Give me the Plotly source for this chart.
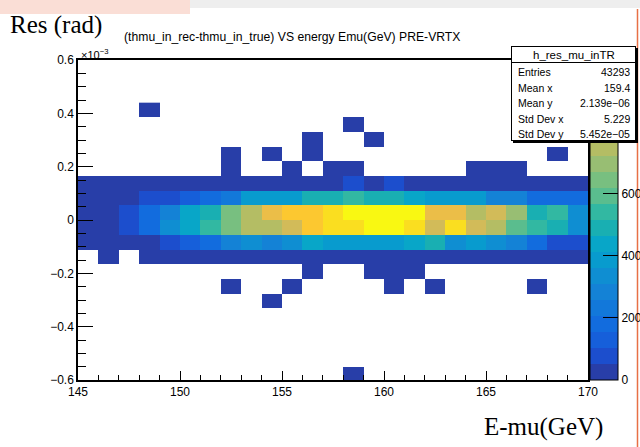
import plotly.graph_objects as go

# ---------------- data ----------------
E_BIN_CENTERS = [145.5, 146.5, 147.5, 148.5, 149.5, 150.5, 151.5, 152.5, 153.5, 154.5,
                 155.5, 156.5, 157.5, 158.5, 159.5, 160.5, 161.5, 162.5, 163.5, 164.5,
                 165.5, 166.5, 167.5, 168.5, 169.5]
# residual bin centers in units of 1e-3 rad (bottom -> top)
RES_BIN_CENTERS = [-0.5775, -0.5225, -0.4675, -0.4125, -0.3575, -0.3025, -0.2475, -0.1925,
                   -0.1375, -0.0825, -0.0275, 0.0275, 0.0825, 0.1375, 0.1925, 0.2475,
                   0.3025, 0.3575, 0.4125]

row_m11 = [0,0,0,0,0,0,0,0,0,0,0,0,0,1,0,0,0,0,0,0,0,0,0,0,0]
row_m10 = [0]*25
row_m9  = [0]*25
row_m8  = [0]*25
row_m7  = [0]*25
row_m6  = [0,0,0,0,0,0,0,0,0,1,0,0,0,0,0,0,0,0,0,0,0,0,0,0,0]
row_m5  = [0,0,0,0,0,0,0,1,0,0,1,0,0,0,0,1,0,1,0,0,0,0,1,0,0]
row_m4  = [0,0,0,0,0,0,0,0,0,0,0,1,0,0,1,1,1,0,0,0,0,0,0,0,0]
row_m3  = [0,2,0,4,6,8,10,12,14,16,18,20,22,24,26,28,28,26,24,22,20,18,14,10,8]
row_m2  = [10,20,30,42,80,130,185,300,335,280,330,440,395,400,385,385,440,490,330,385,330,285,185,78,75]
row_m1  = [22,34,82,175,335,440,540,645,730,745,800,905,950,955,1000,1000,960,800,955,800,745,595,540,490,335]
row_0   = [20,30,80,175,290,440,490,640,745,850,900,905,950,1000,1005,1000,995,855,850,745,800,690,490,540,335]
row_p1  = [10,16,30,78,85,130,190,235,385,375,400,485,485,540,485,480,415,410,385,380,280,280,185,190,175]
row_p2  = [5,6,8,10,14,18,22,26,30,34,38,40,44,70,45,68,44,40,36,32,28,24,20,16,12]
row_p3  = [0,0,0,0,0,0,0,1,0,0,2,0,1,2,0,0,0,0,0,1,1,1,0,0,0]
row_p4  = [0,0,0,0,0,0,0,1,0,1,0,1,0,0,0,0,0,0,0,0,0,0,0,1,0]
row_p5  = [0,0,0,0,0,0,0,0,0,0,0,1,0,0,1,0,0,0,0,0,0,0,0,0,0]
row_p6  = [0,0,0,0,0,0,0,0,0,0,0,0,0,1,0,0,0,0,0,0,0,0,0,0,0]
row_p7  = [0,0,0,1,0,0,0,0,0,0,0,0,0,0,0,0,0,0,0,0,0,0,0,0,0]

COUNTS = [row_m11, row_m10, row_m9, row_m8, row_m7, row_m6, row_m5, row_m4, row_m3,
          row_m2, row_m1, row_0, row_p1, row_p2, row_p3, row_p4, row_p5, row_p6, row_p7]

Z_MAX = 1032
Z_TICKS = [0, 200, 400, 600]
X_TICKS = [145, 150, 155, 160, 165, 170]
Y_TICKS = [-0.6, -0.4, -0.2, 0, 0.2, 0.4, 0.6]
Y_TICKTEXT = ["\u22120.6", "\u22120.4", "\u22120.2", "0", "0.2", "0.4", "0.6"]

HIST_NAME = "h_res_mu_inTR"
STAT_LABELS = ["Entries", "Mean x", "Mean y", "Std Dev x", "Std Dev y"]
STAT_VALUES = ["43293", "159.4", "2.139e\u221206", "5.229", "5.452e\u221205"]

TITLE = "(thmu_in_rec-thmu_in_true) VS energy Emu(GeV) PRE-VRTX"

# 20-level palette (ROOT-like bird)
PALETTE = [
    (40, 62, 168), (28, 78, 205), (22, 95, 218), (18, 108, 222), (18, 120, 218),
    (20, 130, 214), (15, 142, 210), (8, 155, 206), (8, 166, 200), (25, 175, 178),
    (50, 184, 162), (90, 189, 142), (120, 191, 128), (152, 190, 115), (180, 189, 100),
    (210, 187, 89), (235, 190, 72), (252, 200, 48), (250, 222, 32), (249, 248, 18)]

# ---------------- geometry ----------------
W, H = 640, 447
PL, PR, PT, PB = 78, 588, 60, 380

def px(x):
    return (x - PL) / (PR - PL)

def py(y):
    return (PB - y) / (PB - PT)

n = len(PALETTE)
colorscale = []
for i, c in enumerate(PALETTE):
    col = "rgb(%d,%d,%d)" % c
    colorscale.append([i / n, col])
    colorscale.append([(i + 1) / n, col])

z = [[(v if v > 0 else None) for v in row] for row in COUNTS]

FONT = "Liberation Sans, Arial, Helvetica, sans-serif"
SERIF = "Liberation Serif, Times New Roman, serif"

fig = go.Figure()
fig.add_trace(go.Heatmap(
    x=E_BIN_CENTERS, y=RES_BIN_CENTERS, z=z,
    zmin=0, zmax=Z_MAX, colorscale=colorscale, hoverongaps=False,
    colorbar=dict(
        x=px(590), xanchor="left", xref="paper", xpad=0, ypad=0,
        y=0.5, yanchor="middle", len=1, lenmode="fraction",
        thickness=28, thicknessmode="pixels",
        outlinewidth=1, outlinecolor="black",
        tickmode="array", tickvals=Z_TICKS, ticks="inside", ticklen=15,
        tickwidth=1, tickcolor="black",
        tickfont=dict(family=FONT, size=12, color="black"),
    ),
))

axis_common = dict(showgrid=False, zeroline=False, showline=True, linecolor="black",
                   linewidth=1.5, mirror=True, ticks="inside", tickcolor="black",
                   tickwidth=1, tickfont=dict(family=FONT, size=12, color="black"))

fig.update_xaxes(range=[145, 170], tickmode="array", tickvals=X_TICKS, ticklen=9,
                 minor=dict(ticks="inside", dtick=1, ticklen=5, tickcolor="black", tickwidth=1),
                 **axis_common)
fig.update_yaxes(range=[-0.6, 0.6], tickmode="array", tickvals=Y_TICKS, ticktext=Y_TICKTEXT,
                 ticklen=15,
                 minor=dict(ticks="inside", dtick=0.05, ticklen=8, tickcolor="black", tickwidth=1),
                 **axis_common)

shapes = [
    dict(type="rect", xref="paper", yref="paper", x0=px(0), x1=px(190), y0=py(0), y1=py(14),
         fillcolor="rgb(250,222,214)", line=dict(width=0), layer="above"),
    dict(type="rect", xref="paper", yref="paper", x0=px(190), x1=px(640), y0=py(0), y1=py(8),
         fillcolor="rgb(238,238,238)", line=dict(width=0), layer="above"),
    dict(type="line", xref="paper", yref="paper", x0=px(637.5), x1=px(637.5), y0=py(9), y1=py(447),
         line=dict(color="rgb(232,112,70)", width=1.5), layer="above"),
]

ann = []
def text(x, y, s, size, xanchor="left", family=FONT, yanchor="middle"):
    ann.append(dict(xref="paper", yref="paper", x=px(x), y=py(y), text=s, showarrow=False,
                    xanchor=xanchor, yanchor=yanchor,
                    font=dict(family=family, size=size, color="black")))

text(8, 25, "Res (rad)", 25, family=SERIF)
text(122, 37, TITLE, 12.2)
text(79, 54, "\u00d710<sup>\u22123</sup>", 11)
text(605, 427, "E-mu(GeV)", 25, xanchor="right", family=SERIF)

# stats box (shadow, header, body)
BX0, BX1, BY0, BYS, BY1 = 511, 636, 46, 62, 141
def box(x0, y0, x1, y1, bg, border):
    ann.append(dict(xref="paper", yref="paper", x=px(x0), y=py(y0), xanchor="left", yanchor="top",
                    text=" ", showarrow=False, width=x1 - x0 - 2, height=y1 - y0 - 2,
                    bgcolor=bg, bordercolor=border, borderwidth=1, borderpad=0))
box(BX0 + 2, BY0 + 2, BX1 + 2, BY1 + 2, "black", "black")
box(BX0, BY0, BX1, BYS + 1, "white", "black")
box(BX0, BYS, BX1, BY1, "white", "black")

text((BX0 + BX1) / 2, 54.5, HIST_NAME, 11.5, xanchor="center")
row_y = [72, 87.5, 103, 118.5, 134]
for lab, val, yy in zip(STAT_LABELS, STAT_VALUES, row_y):
    text(516, yy, lab, 10.5)
    text(632, yy, val, 10.5, xanchor="right")

fig.update_layout(
    width=W, height=H, autosize=False,
    margin=dict(l=PL, r=W - PR, t=PT, b=H - PB, pad=0, autoexpand=False),
    paper_bgcolor="white", plot_bgcolor="white",
    shapes=shapes, annotations=ann, showlegend=False,
)

fig.write_html("out.html")
